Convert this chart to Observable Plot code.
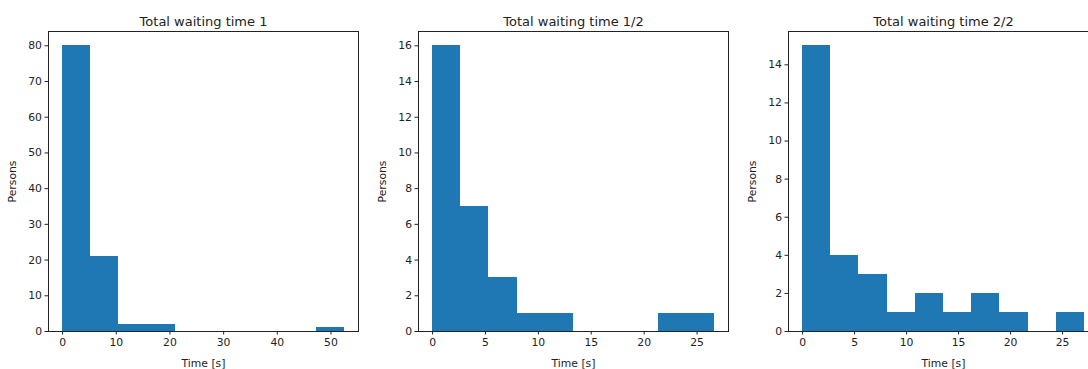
<!DOCTYPE html>
<html>
<head>
<meta charset="utf-8">
<script src="https://cdn.jsdelivr.net/npm/d3@7"></script>
<script src="https://cdn.jsdelivr.net/npm/@observablehq/plot@0.6"></script>
<style>
  html, body { margin: 0; padding: 0; background: #fff; overflow: hidden; }
  #row { display: flex; width: 1110px; }
  #row svg { flex: none; }
</style>
</head>
<body>
<div id="row"></div>
<script>
// Panel titles
const titles = ["Total waiting time 1", "Total waiting time 1/2", "Total waiting time 2/2"];

// Histogram counts, 10 equal-width bins per panel
const counts1 = [80, 21, 2, 2, 0, 0, 0, 0, 0, 1];
const counts2 = [16, 7, 3, 1, 1, 0, 0, 0, 1, 1];
const counts3 = [15, 4, 3, 1, 2, 1, 2, 1, 0, 1];

// Data range (min, max waiting time) spanned by the bins
const range1 = [0, 52.5];
const range2 = [0, 26.64];
const range3 = [0, 27.1];

// Tick values
const xTicks1 = [0, 10, 20, 30, 40, 50];
const xTicks2 = [0, 5, 10, 15, 20, 25];
const xTicks3 = [0, 5, 10, 15, 20, 25];
const yTicks1 = [0, 10, 20, 30, 40, 50, 60, 70, 80];
const yTicks2 = [0, 2, 4, 6, 8, 10, 12, 14, 16];
const yTicks3 = [0, 2, 4, 6, 8, 10, 12, 14];

const panels = [
  {title: titles[0], counts: counts1, range: range1, xTicks: xTicks1, yTicks: yTicks1},
  {title: titles[1], counts: counts2, range: range2, xTicks: xTicks2, yTicks: yTicks2},
  {title: titles[2], counts: counts3, range: range3, xTicks: xTicks3, yTicks: yTicks3}
];

const ink = "#222";

function histogram({title, counts, range, xTicks, yTicks}) {
  const [lo, hi] = range;
  const w = (hi - lo) / counts.length;
  const bins = counts.map((c, i) => ({x1: lo + i * w, x2: lo + (i + 1) * w, count: c}));
  const pad = 0.05 * (hi - lo);
  const ymax = d3.max(counts);
  return Plot.plot({
    width: 370,
    height: 369,
    marginLeft: 48,
    marginRight: 12,
    marginTop: 31,
    marginBottom: 38,
    style: {fontFamily: "DejaVu Sans", fontSize: "10.8px", color: ink, background: "#fff"},
    x: {domain: [lo - pad, hi + pad]},
    y: {domain: [0, ymax * 1.05]},
    marks: [
      Plot.rectY(bins.filter(d => d.count > 0), {
        x1: "x1", x2: "x2", y: "count", fill: "#1f77b4",
        insetLeft: 0, insetRight: 0, shapeRendering: "crispEdges"
      }),
      Plot.frame({stroke: ink, strokeWidth: 1}),
      Plot.axisX(xTicks, {
        tickSize: 3.5, tickPadding: 3, fontSize: 10.8, stroke: ink, fill: ink,
        label: "Time [s]", labelAnchor: "center", labelArrow: "none", labelOffset: 35
      }),
      Plot.axisY(yTicks, {
        tickSize: 3.5, tickPadding: 3, fontSize: 10.8, stroke: ink, fill: ink,
        label: "Persons", labelAnchor: "center", labelArrow: "none", labelOffset: 40
      }),
      Plot.text([title], {
        text: d => d, frameAnchor: "top", dy: -6, lineAnchor: "bottom",
        fontSize: 13, fill: ink
      })
    ]
  });
}

const row = document.getElementById("row");
for (const p of panels) row.appendChild(histogram(p));
</script>
</body>
</html>
